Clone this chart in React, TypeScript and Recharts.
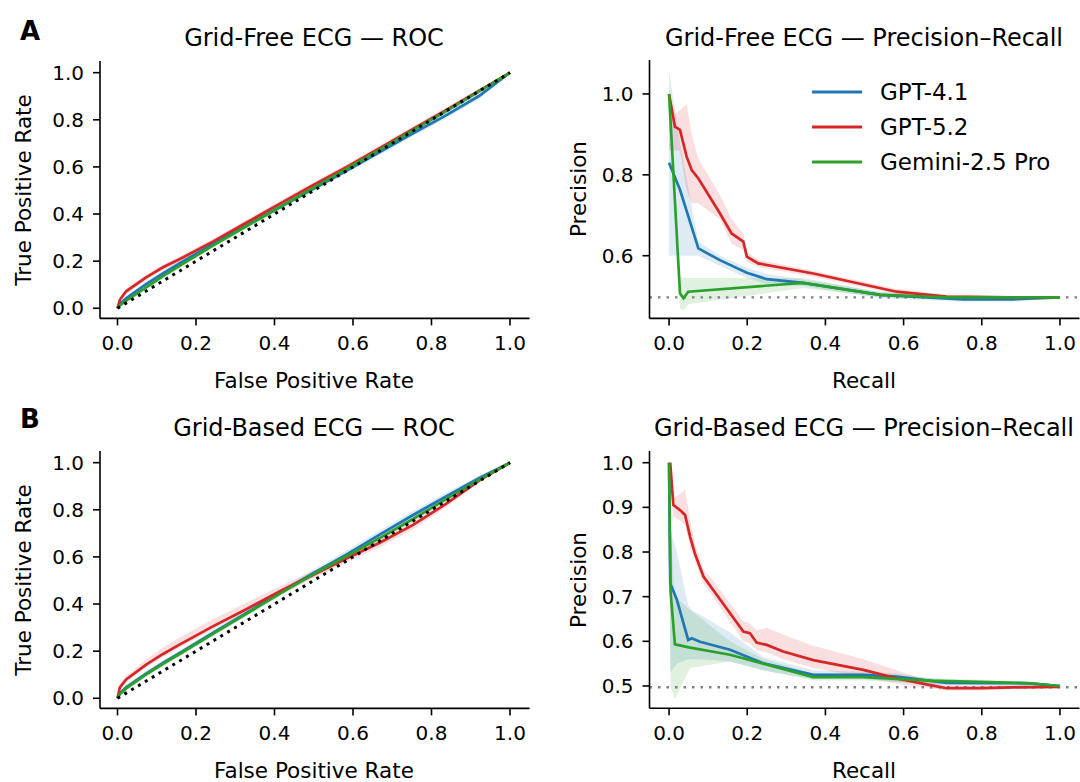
import React from 'react';
import { ComposedChart, Line, Area, XAxis, YAxis, ReferenceLine } from 'recharts';

const models = ['GPT-4.1', 'GPT-5.2', 'Gemini-2.5 Pro'];
const colors = ['#1f77b4', '#d62728', '#2ca02c'];

const unitTicks = [0, 0.2, 0.4, 0.6, 0.8, 1.0];
const prTicksFree = [0.6, 0.8, 1.0];
const prTicksBased = [0.5, 0.6, 0.7, 0.8, 0.9, 1.0];
const prevalence = 0.497;

// ROC: shared false positive rate grid
const fpr = [0, 0.006, 0.022, 0.073, 0.116, 0.159, 0.243, 0.328, 0.414, 0.498, 0.583, 0.668, 0.752, 0.837, 0.922, 1];

// Grid-Free ROC
const freeRocGpt41 = [0, 0.018, 0.042, 0.103, 0.148, 0.191, 0.273, 0.352, 0.43, 0.506, 0.583, 0.663, 0.742, 0.819, 0.902, 1];
const freeRocGpt41Lo = [0, 0.01, 0.032, 0.092, 0.136, 0.179, 0.261, 0.34, 0.418, 0.494, 0.571, 0.651, 0.73, 0.805, 0.89, 1];
const freeRocGpt41Hi = [0, 0.026, 0.052, 0.114, 0.16, 0.203, 0.285, 0.364, 0.442, 0.518, 0.595, 0.675, 0.754, 0.833, 0.914, 1];
const freeRocGpt52 = [0, 0.036, 0.072, 0.131, 0.174, 0.209, 0.283, 0.363, 0.444, 0.522, 0.599, 0.68, 0.76, 0.841, 0.924, 1];
const freeRocGpt52Lo = [0, 0.026, 0.06, 0.119, 0.162, 0.197, 0.271, 0.351, 0.432, 0.51, 0.587, 0.668, 0.748, 0.829, 0.914, 1];
const freeRocGpt52Hi = [0, 0.046, 0.084, 0.143, 0.186, 0.221, 0.295, 0.375, 0.456, 0.534, 0.611, 0.692, 0.772, 0.853, 0.934, 1];
const freeRocGemini = [0, 0.012, 0.032, 0.089, 0.136, 0.181, 0.266, 0.348, 0.43, 0.51, 0.591, 0.673, 0.755, 0.837, 0.922, 1];
const freeRocGeminiLo = [0, 0.006, 0.024, 0.079, 0.126, 0.171, 0.256, 0.338, 0.42, 0.5, 0.581, 0.663, 0.745, 0.827, 0.914, 1];
const freeRocGeminiHi = [0, 0.018, 0.04, 0.099, 0.146, 0.191, 0.276, 0.358, 0.44, 0.52, 0.601, 0.683, 0.765, 0.847, 0.93, 1];

// Grid-Based ROC
const basedRocGpt41 = [0, 0.021, 0.047, 0.105, 0.15, 0.193, 0.277, 0.361, 0.449, 0.53, 0.61, 0.695, 0.777, 0.857, 0.935, 1];
const basedRocGpt41Lo = [0, 0.013, 0.037, 0.093, 0.138, 0.181, 0.265, 0.349, 0.437, 0.517, 0.597, 0.682, 0.764, 0.845, 0.926, 1];
const basedRocGpt41Hi = [0, 0.029, 0.057, 0.117, 0.162, 0.205, 0.289, 0.373, 0.461, 0.545, 0.626, 0.712, 0.794, 0.872, 0.946, 1];
const basedRocGpt52 = [0, 0.046, 0.08, 0.143, 0.188, 0.229, 0.305, 0.378, 0.454, 0.523, 0.593, 0.66, 0.735, 0.825, 0.925, 1];
const basedRocGpt52Lo = [0, 0.036, 0.068, 0.13, 0.175, 0.216, 0.292, 0.365, 0.44, 0.508, 0.575, 0.64, 0.716, 0.81, 0.916, 1];
const basedRocGpt52Hi = [0, 0.056, 0.095, 0.165, 0.215, 0.258, 0.335, 0.405, 0.475, 0.54, 0.608, 0.675, 0.75, 0.838, 0.934, 1];
const basedRocGemini = [0, 0.018, 0.042, 0.101, 0.146, 0.189, 0.273, 0.358, 0.444, 0.526, 0.603, 0.68, 0.76, 0.845, 0.928, 1];
const basedRocGeminiLo = [0, 0.01, 0.032, 0.09, 0.135, 0.178, 0.262, 0.347, 0.433, 0.515, 0.592, 0.669, 0.749, 0.835, 0.92, 1];
const basedRocGeminiHi = [0, 0.026, 0.052, 0.112, 0.157, 0.2, 0.284, 0.369, 0.455, 0.537, 0.614, 0.691, 0.771, 0.855, 0.936, 1];

// Grid-Free precision-recall
const freePrGpt41Recall = [0, 0.028, 0.075, 0.13, 0.199, 0.25, 0.343, 0.54, 0.753, 0.88, 1.0];
const freePrGpt41 = [0.83, 0.763, 0.618, 0.589, 0.558, 0.542, 0.533, 0.503, 0.492, 0.492, 0.497];
const freePrGpt41Lo = [0.6, 0.6, 0.6, 0.575, 0.545, 0.53, 0.525, 0.495, 0.487, 0.487, 0.495];
const freePrGpt41Hi = [1.055, 0.88, 0.635, 0.6, 0.57, 0.555, 0.542, 0.51, 0.497, 0.497, 0.499];

const freePrGpt52Recall = [0, 0.015, 0.028, 0.045, 0.058, 0.075, 0.13, 0.16, 0.19, 0.199, 0.228, 0.369, 0.582, 0.71, 0.88, 1.0];
const freePrGpt52 = [1.0, 0.919, 0.911, 0.845, 0.812, 0.791, 0.705, 0.655, 0.635, 0.598, 0.581, 0.556, 0.511, 0.499, 0.497, 0.497];
const freePrGpt52Lo = [0.86, 0.86, 0.86, 0.76, 0.73, 0.73, 0.69, 0.63, 0.615, 0.585, 0.572, 0.548, 0.505, 0.494, 0.494, 0.496];
const freePrGpt52Hi = [1.0, 0.95, 0.96, 0.975, 0.9, 0.84, 0.75, 0.69, 0.655, 0.61, 0.59, 0.563, 0.518, 0.504, 0.5, 0.498];

const freePrGeminiRecall = [0, 0.028, 0.037, 0.049, 0.343, 0.54, 0.71, 1.0];
const freePrGemini = [1.0, 0.507, 0.495, 0.511, 0.533, 0.503, 0.497, 0.497];
const freePrGeminiLo = [0.98, 0.47, 0.465, 0.48, 0.52, 0.497, 0.494, 0.496];
const freePrGeminiHi = [1.0, 0.55, 0.545, 0.545, 0.545, 0.51, 0.5, 0.498];

// Grid-Based precision-recall
const basedPrGpt41Recall = [0, 0.003, 0.02, 0.049, 0.058, 0.079, 0.156, 0.241, 0.369, 0.497, 0.582, 0.71, 0.923, 1.0];
const basedPrGpt41 = [1.0, 0.73, 0.693, 0.603, 0.607, 0.599, 0.581, 0.551, 0.525, 0.525, 0.521, 0.507, 0.506, 0.5];
const basedPrGpt41Lo = [0.98, 0.53, 0.55, 0.56, 0.56, 0.56, 0.555, 0.535, 0.515, 0.515, 0.51, 0.5, 0.5, 0.498];
const basedPrGpt41Hi = [1.0, 0.85, 0.8, 0.68, 0.67, 0.66, 0.62, 0.565, 0.535, 0.532, 0.528, 0.512, 0.51, 0.501];

const basedPrGpt52Recall = [0.003, 0.011, 0.028, 0.041, 0.054, 0.066, 0.088, 0.113, 0.19, 0.207, 0.224, 0.25, 0.292, 0.369, 0.497, 0.582, 0.668, 0.71, 0.795, 0.88, 1.0];
const basedPrGpt52 = [1.0, 0.905, 0.894, 0.883, 0.834, 0.797, 0.745, 0.715, 0.622, 0.618, 0.597, 0.592, 0.577, 0.558, 0.536, 0.517, 0.502, 0.495, 0.495, 0.497, 0.498];
const basedPrGpt52Lo = [0.97, 0.88, 0.87, 0.86, 0.81, 0.78, 0.73, 0.7, 0.6, 0.595, 0.58, 0.575, 0.56, 0.54, 0.52, 0.505, 0.495, 0.49, 0.49, 0.493, 0.496];
const basedPrGpt52Hi = [1.0, 0.92, 0.93, 0.94, 0.87, 0.82, 0.76, 0.735, 0.645, 0.64, 0.625, 0.63, 0.615, 0.59, 0.56, 0.535, 0.51, 0.5, 0.5, 0.5, 0.499];

const basedPrGeminiRecall = [0, 0.004, 0.015, 0.054, 0.156, 0.241, 0.369, 0.497, 0.668, 0.923, 1.0];
const basedPrGemini = [1.0, 0.71, 0.593, 0.586, 0.57, 0.55, 0.52, 0.52, 0.512, 0.506, 0.5];
const basedPrGeminiLo = [0.98, 0.5, 0.47, 0.54, 0.555, 0.535, 0.512, 0.512, 0.505, 0.5, 0.498];
const basedPrGeminiHi = [1.0, 0.85, 0.7, 0.67, 0.6, 0.56, 0.528, 0.528, 0.518, 0.51, 0.501];

type Row = { x: number; y: number; band: [number, number] };
type Series = { name: string; color: string; rows: Row[] };

const toRows = (x: number[], y: number[], lo: number[], hi: number[]): Row[] =>
  x.map((v, i) => ({ x: v, y: y[i], band: [lo[i], hi[i]] }));

const makeSeries = (rows: Row[][]): Series[] =>
  rows.map((r, i) => ({ name: models[i], color: colors[i], rows: r }));

const freeRoc = makeSeries([
  toRows(fpr, freeRocGpt41, freeRocGpt41Lo, freeRocGpt41Hi),
  toRows(fpr, freeRocGpt52, freeRocGpt52Lo, freeRocGpt52Hi),
  toRows(fpr, freeRocGemini, freeRocGeminiLo, freeRocGeminiHi),
]);
const basedRoc = makeSeries([
  toRows(fpr, basedRocGpt41, basedRocGpt41Lo, basedRocGpt41Hi),
  toRows(fpr, basedRocGpt52, basedRocGpt52Lo, basedRocGpt52Hi),
  toRows(fpr, basedRocGemini, basedRocGeminiLo, basedRocGeminiHi),
]);
const freePr = makeSeries([
  toRows(freePrGpt41Recall, freePrGpt41, freePrGpt41Lo, freePrGpt41Hi),
  toRows(freePrGpt52Recall, freePrGpt52, freePrGpt52Lo, freePrGpt52Hi),
  toRows(freePrGeminiRecall, freePrGemini, freePrGeminiLo, freePrGeminiHi),
]);
const basedPr = makeSeries([
  toRows(basedPrGpt41Recall, basedPrGpt41, basedPrGpt41Lo, basedPrGpt41Hi),
  toRows(basedPrGpt52Recall, basedPrGpt52, basedPrGpt52Lo, basedPrGpt52Hi),
  toRows(basedPrGeminiRecall, basedPrGemini, basedPrGeminiLo, basedPrGeminiHi),
]);

const FONT = 'DejaVu Sans, Verdana, sans-serif';
const tickStyle = { fontSize: 20, fill: '#000', fontFamily: FONT };
const axisStroke = { stroke: '#000', strokeWidth: 1.6 };
const fmt = (v: number) => v.toFixed(1);

type PanelProps = {
  left: number;
  top: number;
  series: Series[];
  kind: 'roc' | 'pr';
  xDomain: [number, number];
  yDomain: [number, number];
  yTicks: number[];
  yAxisWidth: number;
  marginTop: number;
  marginRight: number;
  plotBottom: number;
};

const W = 540;
const H = 390;

const Panel = (p: PanelProps) => (
  <div style={{ position: 'absolute', left: p.left, top: p.top, width: W, height: H }}>
    <ComposedChart
      width={W}
      height={H}
      margin={{ top: p.marginTop, right: p.marginRight, bottom: 0, left: 0 }}
    >
      <XAxis
        type="number"
        dataKey="x"
        domain={p.xDomain}
        ticks={unitTicks}
        tickFormatter={fmt}
        allowDataOverflow
        height={H - p.plotBottom}
        tick={tickStyle}
        tickSize={7}
        tickMargin={10}
        axisLine={axisStroke}
        tickLine={axisStroke}
      />
      <YAxis
        type="number"
        domain={p.yDomain}
        ticks={p.yTicks}
        tickFormatter={fmt}
        allowDataOverflow
        width={p.yAxisWidth}
        tick={tickStyle}
        tickSize={7}
        tickMargin={9}
        axisLine={axisStroke}
        tickLine={axisStroke}
      />
      {p.kind === 'pr' && (
        <ReferenceLine y={prevalence} stroke="#808080" strokeWidth={2.4} strokeDasharray="2.5 6" />
      )}
      {p.series.map((s) => (
        <Area
          key={`band-${s.name}`}
          data={s.rows}
          dataKey="band"
          type="linear"
          stroke="none"
          fill={s.color}
          fillOpacity={0.15}
          legendType="none"
          isAnimationActive={false}
        />
      ))}
      {p.series.map((s) => (
        <Line
          key={`line-${s.name}`}
          data={s.rows}
          dataKey="y"
          name={s.name}
          type="linear"
          stroke={s.color}
          strokeWidth={2.7}
          dot={false}
          activeDot={false}
          isAnimationActive={false}
        />
      ))}
      {p.kind === 'roc' && (
        <ReferenceLine
          segment={[{ x: 0, y: 0 }, { x: 1, y: 1 }]}
          stroke="#000"
          strokeWidth={3}
          strokeDasharray="3 5"
        />
      )}
    </ComposedChart>
  </div>
);

const textStyle = { fontFamily: FONT, fill: '#000' };

export default function App() {
  return (
    <div style={{ position: 'absolute', left: 0, top: 0, width: 1080, height: 782, background: '#fff', overflow: 'hidden' }}>
      <Panel
        left={0}
        top={0}
        series={freeRoc}
        kind="roc"
        xDomain={[-0.0446, 1.05]}
        yDomain={[-0.043, 1.05]}
        yTicks={unitTicks}
        yAxisWidth={100}
        marginTop={60.9}
        marginRight={10.4}
        plotBottom={318.4}
      />
      <Panel
        left={540}
        top={0}
        series={freePr}
        kind="pr"
        xDomain={[-0.05, 1.05]}
        yDomain={[0.445, 1.084]}
        yTicks={prTicksFree}
        yAxisWidth={109.5}
        marginTop={60}
        marginRight={0.5}
        plotBottom={318.4}
      />
      <Panel
        left={0}
        top={390}
        series={basedRoc}
        kind="roc"
        xDomain={[-0.0446, 1.05]}
        yDomain={[-0.043, 1.05]}
        yTicks={unitTicks}
        yAxisWidth={100}
        marginTop={60.9}
        marginRight={10.4}
        plotBottom={318.4}
      />
      <Panel
        left={540}
        top={390}
        series={basedPr}
        kind="pr"
        xDomain={[-0.05, 1.05]}
        yDomain={[0.45, 1.026]}
        yTicks={prTicksBased}
        yAxisWidth={109.5}
        marginTop={61.1}
        marginRight={0.5}
        plotBottom={318.3}
      />
      <svg
        width={1080}
        height={782}
        style={{ position: 'absolute', left: 0, top: 0, pointerEvents: 'none' }}
      >
        <text x={20} y={40} fontSize={26} fontWeight="bold" {...textStyle}>A</text>
        <text x={20} y={428} fontSize={26} fontWeight="bold" {...textStyle}>B</text>

        <text x={314} y={46} fontSize={24} textAnchor="middle" {...textStyle}>Grid-Free ECG — ROC</text>
        <text x={864} y={46} fontSize={24} textAnchor="middle" {...textStyle}>Grid-Free ECG — Precision–Recall</text>
        <text x={314} y={436} fontSize={24} textAnchor="middle" {...textStyle}>Grid-Based ECG — ROC</text>
        <text x={864} y={436} fontSize={24} textAnchor="middle" {...textStyle}>Grid-Based ECG — Precision–Recall</text>

        <text x={314} y={388} fontSize={21.5} textAnchor="middle" {...textStyle}>False Positive Rate</text>
        <text x={864} y={388} fontSize={21.5} textAnchor="middle" {...textStyle}>Recall</text>
        <text x={314} y={778} fontSize={21.5} textAnchor="middle" {...textStyle}>False Positive Rate</text>
        <text x={864} y={778} fontSize={21.5} textAnchor="middle" {...textStyle}>Recall</text>

        <text transform="translate(31,190) rotate(-90)" fontSize={21.5} textAnchor="middle" {...textStyle}>True Positive Rate</text>
        <text transform="translate(586,189) rotate(-90)" fontSize={21.5} textAnchor="middle" {...textStyle}>Precision</text>
        <text transform="translate(31,580) rotate(-90)" fontSize={21.5} textAnchor="middle" {...textStyle}>True Positive Rate</text>
        <text transform="translate(586,580) rotate(-90)" fontSize={21.5} textAnchor="middle" {...textStyle}>Precision</text>

        {models.map((m, i) => (
          <g key={m}>
            <line x1={812} x2={862} y1={92 + 35 * i} y2={92 + 35 * i} stroke={colors[i]} strokeWidth={2.8} />
            <text x={880} y={100 + 35 * i} fontSize={23} {...textStyle}>{m}</text>
          </g>
        ))}
      </svg>
    </div>
  );
}
